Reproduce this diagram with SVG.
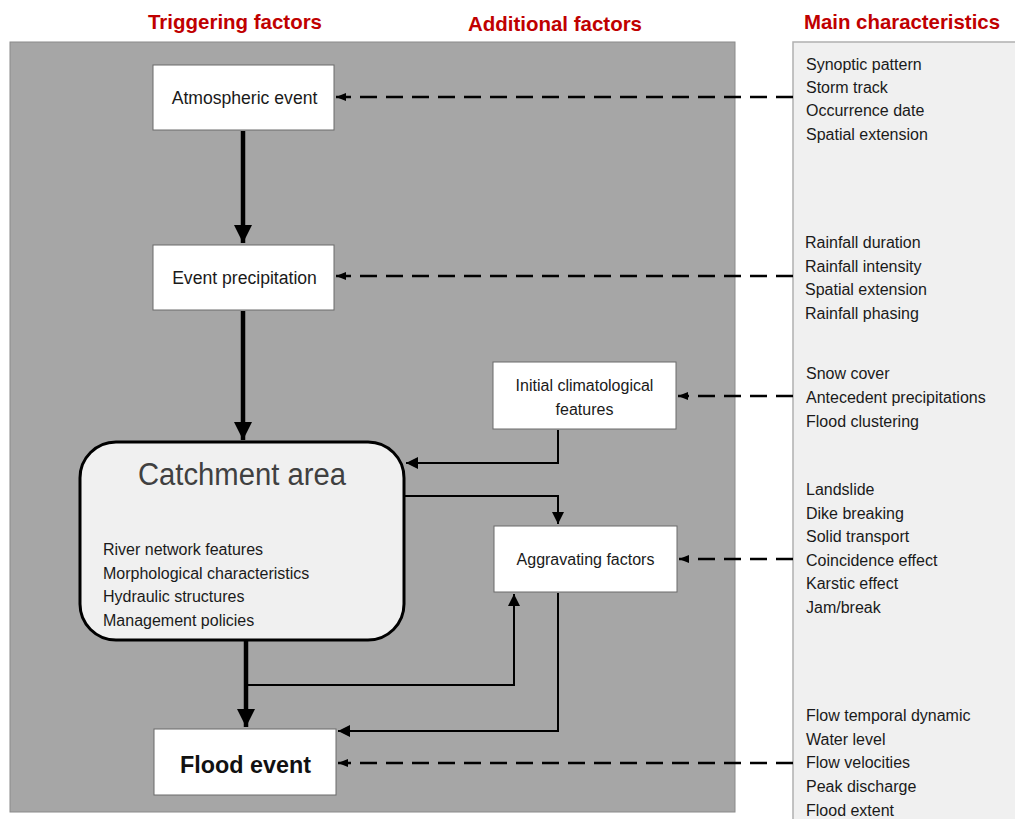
<svg xmlns="http://www.w3.org/2000/svg" width="1015" height="819" viewBox="0 0 1015 819">
<defs>
<style>
.title{font-family:"Liberation Sans",Arial,sans-serif;font-weight:bold;font-size:21px;fill:#c00000;}
.t{font-family:"Liberation Sans",Arial,sans-serif;font-size:16px;fill:#1a1a1a;}
.big{font-size:17.6px;}
.box{fill:#ffffff;stroke:#6a6a6a;stroke-width:1;}
.thick{stroke:#000;stroke-width:4.5;fill:none;}
.thin{stroke:#000;stroke-width:2;fill:none;}
.dash{stroke:#000;stroke-width:2.5;fill:none;stroke-dasharray:17 9;}
</style>
<marker id="ah" viewBox="0 0 10 10" refX="10" refY="5" markerWidth="4" markerHeight="4" markerUnits="strokeWidth" orient="auto">
<path d="M0,0 L10,5 L0,10 z" fill="#000"/>
</marker>
<marker id="ahs" viewBox="0 0 10 10" refX="10" refY="5" markerWidth="6" markerHeight="6" markerUnits="strokeWidth" orient="auto">
<path d="M0,0 L10,5 L0,10 z" fill="#000"/>
</marker>
<marker id="ahd" viewBox="0 0 10 10" refX="10" refY="5" markerWidth="4" markerHeight="4" markerUnits="strokeWidth" orient="auto">
<path d="M0,1 L10,5 L0,9 z" fill="#000"/>
</marker>
</defs>
<rect x="0" y="0" width="1015" height="819" fill="#ffffff"/>
<text class="title" x="235" y="29" text-anchor="middle" textLength="174" lengthAdjust="spacingAndGlyphs">Triggering factors</text>
<text class="title" x="555" y="31" text-anchor="middle" textLength="174" lengthAdjust="spacingAndGlyphs">Additional factors</text>
<text class="title" x="902" y="29" text-anchor="middle" textLength="196" lengthAdjust="spacingAndGlyphs">Main characteristics</text>

<rect id="panel" x="10" y="42" width="725" height="770" fill="#a6a6a6" stroke="#8a8a8a" stroke-width="1"/>
<rect id="charpanel" x="793" y="42" width="230" height="800" fill="#f0f0f0" stroke="#b0b0b0" stroke-width="1.5"/>

<g id="connectors">
<line class="thick" x1="243" y1="131" x2="243" y2="243" marker-end="url(#ah)"/>
<line class="thick" x1="243" y1="311" x2="243" y2="440" marker-end="url(#ah)"/>
<line class="thick" x1="246" y1="641" x2="246" y2="727" marker-end="url(#ah)"/>
<polyline class="thin" points="558,430 558,463 406,463" marker-end="url(#ahs)"/>
<polyline class="thin" points="405,496 558,496 558,524" marker-end="url(#ahs)"/>
<polyline class="thin" points="246,685 514,685 514,594" marker-end="url(#ahs)"/>
<polyline class="thin" points="558,593 558,731 338,731" marker-end="url(#ahs)"/>
<line class="dash" x1="793" y1="97" x2="336" y2="97" marker-end="url(#ahd)"/>
<line class="dash" x1="793" y1="276" x2="336" y2="276" marker-end="url(#ahd)"/>
<line class="dash" x1="793" y1="396" x2="678" y2="396" marker-end="url(#ahd)"/>
<line class="dash" x1="793" y1="559" x2="679" y2="559" marker-end="url(#ahd)"/>
<line class="dash" x1="793" y1="763" x2="338" y2="763" marker-end="url(#ahd)"/>
</g>

<g id="atmospheric">
<rect class="box" x="153" y="65" width="181" height="65"/>
<text class="t big" x="244.5" y="104" text-anchor="middle">Atmospheric event</text>
</g>
<g id="precipitation">
<rect class="box" x="153" y="245" width="181" height="65"/>
<text class="t big" x="244.5" y="284" text-anchor="middle">Event precipitation</text>
</g>
<g id="catchment">
<rect x="80" y="442" width="324" height="198" rx="36" ry="36" fill="#f0f0f0" stroke="#000" stroke-width="3"/>
<text x="242" y="485" text-anchor="middle" font-family="Liberation Sans, Arial, sans-serif" font-size="31" fill="#404040" textLength="208" lengthAdjust="spacingAndGlyphs">Catchment area</text>
<text class="t" x="103" y="555">River network features</text>
<text class="t" x="103" y="579">Morphological characteristics</text>
<text class="t" x="103" y="602">Hydraulic structures</text>
<text class="t" x="103" y="626">Management policies</text>
</g>
<g id="flood">
<rect class="box" x="154" y="729" width="182" height="66"/>
<text x="245.5" y="773" text-anchor="middle" font-family="Liberation Sans, Arial, sans-serif" font-size="24" font-weight="bold" fill="#111" textLength="131" lengthAdjust="spacingAndGlyphs">Flood event</text>
</g>
<g id="initial">
<rect class="box" x="493" y="362" width="183" height="67"/>
<text class="t" x="584.5" y="391" text-anchor="middle">Initial climatological</text>
<text class="t" x="584.5" y="415" text-anchor="middle">features</text>
</g>
<g id="aggravating">
<rect class="box" x="494" y="526" width="183" height="66"/>
<text class="t" x="585.5" y="565" text-anchor="middle">Aggravating factors</text>
</g>

<g id="characteristics">
<text class="t" x="806" y="70">Synoptic pattern</text>
<text class="t" x="806" y="93">Storm track</text>
<text class="t" x="806" y="116">Occurrence date</text>
<text class="t" x="806" y="140">Spatial extension</text>
<text class="t" x="805" y="248">Rainfall duration</text>
<text class="t" x="805" y="272">Rainfall intensity</text>
<text class="t" x="805" y="295">Spatial extension</text>
<text class="t" x="805" y="319">Rainfall phasing</text>
<text class="t" x="806" y="379">Snow cover</text>
<text class="t" x="806" y="403">Antecedent precipitations</text>
<text class="t" x="806" y="427">Flood clustering</text>
<text class="t" x="806" y="495">Landslide</text>
<text class="t" x="806" y="519">Dike breaking</text>
<text class="t" x="806" y="542">Solid transport</text>
<text class="t" x="806" y="566">Coincidence effect</text>
<text class="t" x="806" y="589">Karstic effect</text>
<text class="t" x="806" y="613">Jam/break</text>
<text class="t" x="806" y="721">Flow temporal dynamic</text>
<text class="t" x="806" y="745">Water level</text>
<text class="t" x="806" y="768">Flow velocities</text>
<text class="t" x="806" y="792">Peak discharge</text>
<text class="t" x="806" y="816">Flood extent</text>
</g>
</svg>
